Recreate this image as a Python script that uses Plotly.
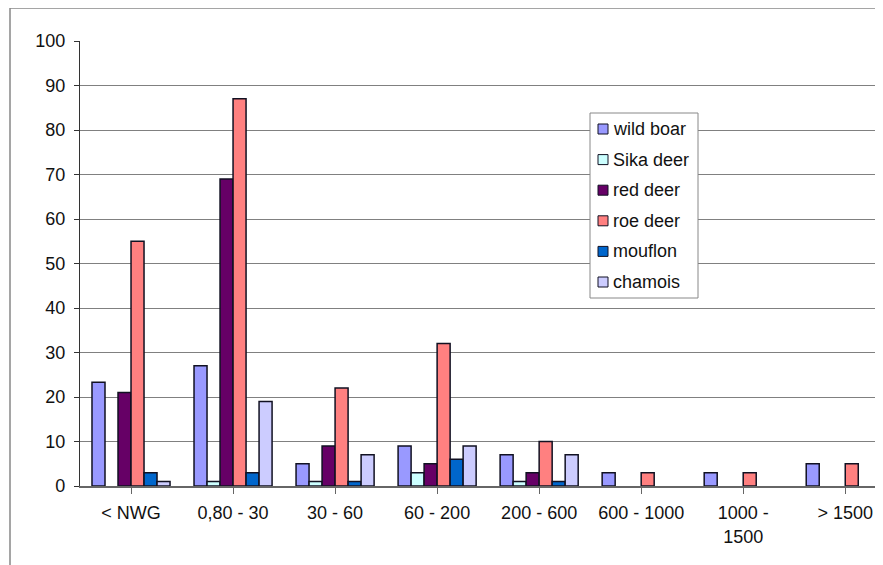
import plotly.graph_objects as go

categories = ["< NWG", "0,80 - 30", "30 - 60", "60 - 200", "200 - 600",
              "600 - 1000", "1000 -<br>1500", "> 1500"]
wild_boar = [23.3, 27, 5, 9, 7, 3, 3, 5]
sika_deer = [0, 1, 1, 3, 1, 0, 0, 0]
red_deer = [21, 69, 9, 5, 3, 0, 0, 0]
roe_deer = [55, 87, 22, 32, 10, 3, 3, 5]
mouflon = [3, 3, 1, 6, 1, 0, 0, 0]
chamois = [1, 19, 7, 9, 7, 0, 0, 0]

series_names = ["wild boar", "Sika deer", "red deer", "roe deer", "mouflon", "chamois"]
series_values = [wild_boar, sika_deer, red_deer, roe_deer, mouflon, chamois]
series_colors = ["#9999FF", "#CCFFFF", "#660066", "#FF8080", "#0066CC", "#CCCCFF"]

FONT = "Liberation Sans, Arial, sans-serif"
OUTLINE = "#111122"
fig = go.Figure()
for name, vals, col in zip(series_names, series_values, series_colors):
    fig.add_trace(go.Bar(
        name=name, x=list(range(len(categories))), y=vals,
        marker=dict(color=col,
                    line=dict(color=OUTLINE,
                              width=[1.5 if v > 0 else 0 for v in vals])),
        showlegend=False,
    ))

# page body has an 8px margin; target pixel coordinates are screen coords
OFF = 8
W, H = 883 - OFF, 565 - OFF
ml, mt = 80 - OFF, 41 - OFF
mb = 565 - 486
mr = 0
pw, ph = W - ml - mr, H - mt - mb


def px(x):
    return (x - OFF - ml) / pw


def py(y):
    return (565 - mb - y) / ph


shapes = [dict(type="rect", xref="paper", yref="paper",
               x0=px(10), x1=px(900), y0=py(600), y1=py(8),
               line=dict(color="#888888", width=1.5), layer="below")]
annotations = []

# legend box
shapes.append(dict(type="rect", xref="paper", yref="paper",
                   x0=px(590), x1=px(698), y0=py(298), y1=py(113),
                   line=dict(color="#888888", width=1), fillcolor="white",
                   layer="above"))
for i, (name, col) in enumerate(zip(series_names, series_colors)):
    cy = 129 + i * 30.6
    shapes.append(dict(type="rect", xref="paper", yref="paper",
                       x0=px(598), x1=px(608), y0=py(cy + 5), y1=py(cy - 5),
                       line=dict(color=OUTLINE, width=1), fillcolor=col,
                       layer="above"))
    annotations.append(dict(xref="paper", yref="paper", x=px(611), y=py(cy),
                            xanchor="left", yanchor="middle", text=name,
                            showarrow=False,
                            font=dict(family=FONT, size=18, color="#111111")))

fig.update_layout(
    width=W, height=H,
    margin=dict(l=ml, r=mr, t=mt, b=mb, pad=0),
    paper_bgcolor="white", plot_bgcolor="white",
    font=dict(family=FONT, size=18, color="#111111"),
    barmode="group", bargap=0.235, bargroupgap=0,
    showlegend=False,
    xaxis=dict(
        tickmode="array", tickvals=list(range(len(categories))),
        ticktext=categories, range=[-0.5, 7.37],
        showgrid=False, showline=True, linecolor="#666666", linewidth=1.5,
        ticks="outside", tickson="boundaries", ticklen=6, tickcolor="#666666",
        zeroline=False, ticklabelstandoff=4,
    ),
    yaxis=dict(
        range=[0, 100], tickmode="linear", tick0=0, dtick=10,
        showgrid=True, gridcolor="#808080", gridwidth=1.2,
        showline=True, linecolor="#333333", linewidth=1.2,
        ticks="outside", ticklen=5, tickcolor="#333333",
        zeroline=False, ticklabelstandoff=5,
    ),
    shapes=shapes,
    annotations=annotations,
)

fig.write_html("out.html")
